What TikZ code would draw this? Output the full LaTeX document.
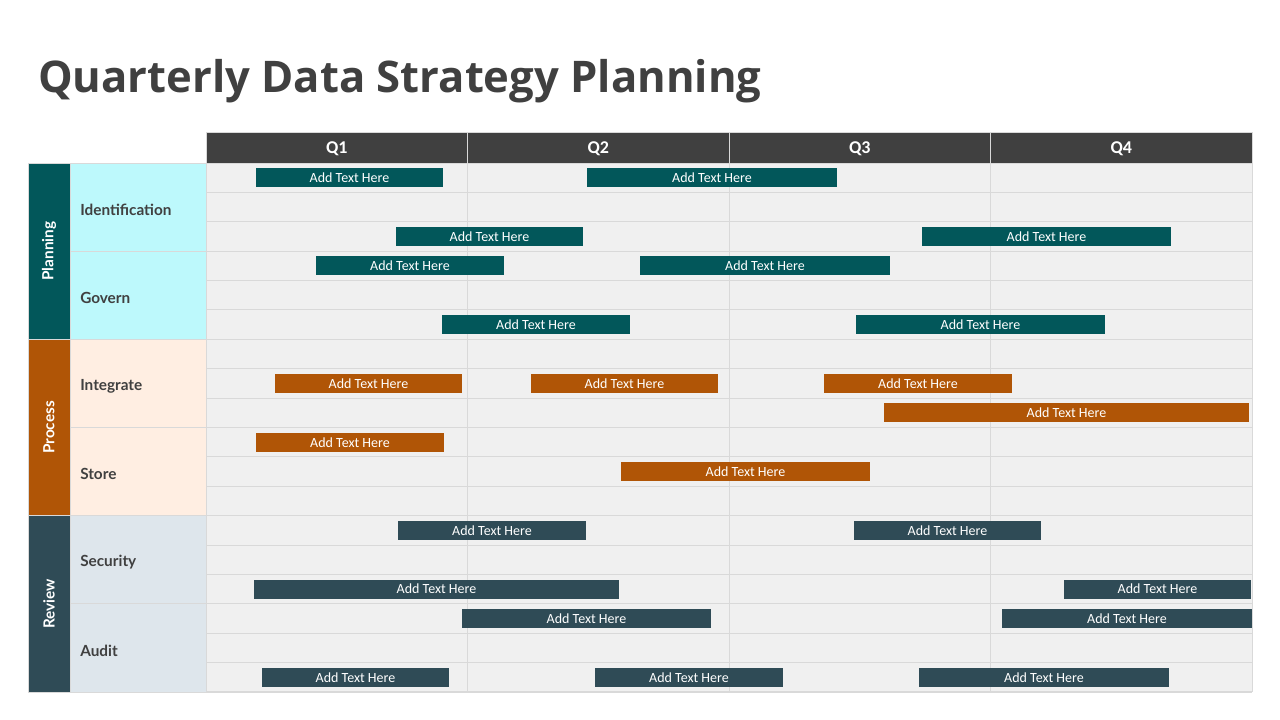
\documentclass[tikz,border=0pt]{standalone}
\usepackage{fontspec}
\setmainfont{Carlito}
\newfontfamily\titlefont{Open Sans}
\newfontfamily\labfont{Lato}
\definecolor{hdr}{HTML}{404040}
\definecolor{gridbg}{HTML}{F0F0F0}
\definecolor{gridln}{HTML}{D9D9D9}
\definecolor{tealc}{HTML}{02575A}
\definecolor{teall}{HTML}{BDF9FC}
\definecolor{orgc}{HTML}{B05506}
\definecolor{orgl}{HTML}{FFEEE2}
\definecolor{revc}{HTML}{2F4B56}
\definecolor{revl}{HTML}{DEE6EC}
\definecolor{labtxt}{HTML}{404040}
\tikzset{
  barbox/.style={fill=#1, draw=none, inner sep=0pt, minimum height=19*0.75pt, text=white, font=\fontsize{10.5}{12}\selectfont},
  qhead/.style={fill=hdr, draw=gridln, line width=0.6pt, inner sep=0pt, minimum height=31*0.75pt, minimum width=261.5*0.75pt},
  qtext/.style={text=white, font=\bfseries\fontsize{13.5}{15}\selectfont},
  catbox/.style={fill=#1, draw=gridln, line width=0.6pt, inner sep=0pt, minimum width=42*0.75pt, minimum height=176.3*0.75pt},
  cattext/.style={rotate=90, text=white, font=\labfont\bfseries\fontsize{11.5}{13}\selectfont},
  subbox/.style={fill=#1, draw=gridln, line width=0.6pt, inner sep=0pt, minimum width=136*0.75pt, minimum height=88.17*0.75pt},
  sublab/.style={text=labtxt, font=\labfont\bfseries\fontsize{11.5}{13}\selectfont, anchor=west, inner sep=0pt}
}
\newcommand\gbar[5]{\node[barbox=#1, minimum width={(#3-#2)*0.75pt}] (#5) at ({(#2+#3)/2},{163+(#4-0.5)*29.39}) {Add Text Here};}
\begin{document}
\begin{tikzpicture}[x=0.75pt,y=-0.75pt]
\useasboundingbox (0,0) rectangle (1280,720);
\fill[white] (0,0) rectangle (1280,720);
% title
\node[anchor=base west, inner sep=0pt, text=hdr, font=\titlefont\bfseries\fontsize{32.7}{38}\selectfont] (title) at (38,93) {Quarterly Data Strategy Planning};
% grid area
\fill[gridbg] (206,163) rectangle (1252,692);
\foreach \i in {0,...,18} {\draw[gridln, line width=0.8pt] (206,{163+\i*29.39}) -- (1252,{163+\i*29.39});}
\foreach \x in {206,467,729,990,1252} {\draw[gridln, line width=0.6pt] (\x,163) -- (\x,692);}
% header
\node[qhead] (q1) at ({206+261.5*0.5},147.5) {};
\node[qhead] (q2) at ({206+261.5*1.5},147.5) {};
\node[qhead] (q3) at ({206+261.5*2.5},147.5) {};
\node[qhead] (q4) at ({206+261.5*3.5},147.5) {};
\node[qtext] (tq1) at ([yshift=-1.5*0.75pt]q1.center) {Q1};
\node[qtext] (tq2) at ([yshift=-1.5*0.75pt]q2.center) {Q2};
\node[qtext] (tq3) at ([yshift=-1.5*0.75pt]q3.center) {Q3};
\node[qtext] (tq4) at ([yshift=-1.5*0.75pt]q4.center) {Q4};
% categories
\node[catbox=tealc] (cplan) at (49,{163+88.17}) {};
\node[catbox=orgc] (cproc) at (49,{163+3*88.17}) {};
\node[catbox=revc] (crev) at (49,{163+5*88.17}) {};
\node[cattext] (tplan) at (cplan.center) {Planning};
\node[cattext] (tproc) at (cproc.center) {Process};
\node[cattext] (trev) at (crev.center) {Review};
% sub categories
\node[subbox=teall] (sident) at (138,{163+0.5*88.17}) {};
\node[subbox=teall] (sgov) at (138,{163+1.5*88.17}) {};
\node[subbox=orgl] (sint) at (138,{163+2.5*88.17}) {};
\node[subbox=orgl] (sstore) at (138,{163+3.5*88.17}) {};
\node[subbox=revl] (ssec) at (138,{163+4.5*88.17}) {};
\node[subbox=revl] (saud) at (138,{163+5.5*88.17}) {};
\node[sublab] (lident) at (80,{165.5+0.5*88.17}) {Identification};
\node[sublab] (lgov) at (80,{165.5+1.5*88.17}) {Govern};
\node[sublab] (lint) at (80,{165.5+2.5*88.17}) {Integrate};
\node[sublab] (lstore) at (80,{165.5+3.5*88.17}) {Store};
\node[sublab] (lsec) at (80,{165.5+4.5*88.17}) {Security};
\node[sublab] (laud) at (80,{165.5+5.5*88.17}) {Audit};
% bars
\gbar{tealc}{256}{443}{1}{b1a}
\gbar{tealc}{587}{837}{1}{b1b}
\gbar{tealc}{396}{583}{3}{b3a}
\gbar{tealc}{922}{1171}{3}{b3b}
\gbar{tealc}{316}{504}{4}{b4a}
\gbar{tealc}{640}{890}{4}{b4b}
\gbar{tealc}{442}{630}{6}{b6a}
\gbar{tealc}{856}{1105}{6}{b6b}
\gbar{orgc}{275}{462}{8}{b8a}
\gbar{orgc}{531}{718}{8}{b8b}
\gbar{orgc}{824}{1012}{8}{b8c}
\gbar{orgc}{884}{1249}{9}{b9a}
\gbar{orgc}{256}{444}{10}{b10a}
\gbar{orgc}{621}{870}{11}{b11a}
\gbar{revc}{398}{586}{13}{b13a}
\gbar{revc}{854}{1041}{13}{b13b}
\gbar{revc}{254}{619}{15}{b15a}
\gbar{revc}{1064}{1251}{15}{b15b}
\gbar{revc}{462}{711}{16}{b16a}
\gbar{revc}{1002}{1252}{16}{b16b}
\gbar{revc}{262}{449}{18}{b18a}
\gbar{revc}{595}{783}{18}{b18b}
\gbar{revc}{919}{1169}{18}{b18c}
\end{tikzpicture}
\end{document}
